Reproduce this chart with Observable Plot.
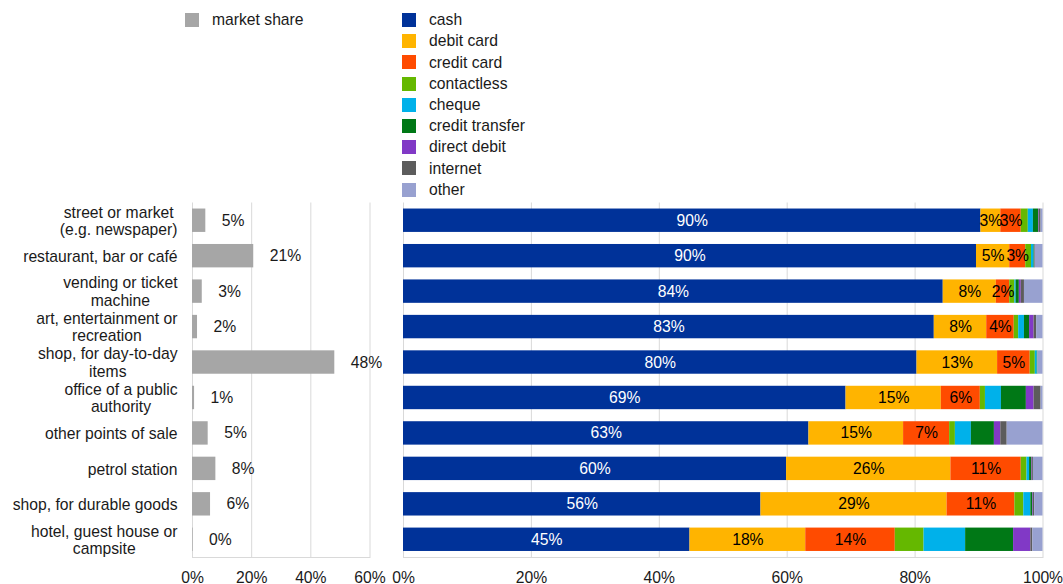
<!DOCTYPE html>
<html>
<head>
<meta charset="utf-8">
<script src="https://cdn.jsdelivr.net/npm/d3@7"></script>
<script src="https://cdn.jsdelivr.net/npm/@observablehq/plot@0.6"></script>
<style>
  body { margin: 0; background: #fff; font-family: "Liberation Sans", Arial, sans-serif; }
  #chart { position: relative; width: 1063px; height: 584px; color: #1a1a1a; }
  .legend { position: absolute; font-size: 15.7px; line-height: 1; }
  .legend .item { display: flex; align-items: center; height: 21.2px; white-space: nowrap; }
  .legend .sw { width: 14px; height: 14px; margin-right: 13px; flex: none; }
  #left, #right { position: absolute; top: 190px; }
  #left { left: 0; }
  #right { left: 386px; }
</style>
</head>
<body>
<div id="chart">
  <div class="legend" id="leg-share" style="left:185px; top:9.5px"></div>
  <div class="legend" id="leg-methods" style="left:402px; top:9.5px"></div>
  <div id="left"></div>
  <div id="right"></div>
</div>
<script>
// Points of sale, top to bottom
const categories = [
  "street or market\n(e.g. newspaper)",
  "restaurant, bar or café",
  "vending or ticket\nmachine",
  "art, entertainment or\nrecreation",
  "shop, for day-to-day\nitems",
  "office of a public\nauthority",
  "other points of sale",
  "petrol station",
  "shop, for durable goods",
  "hotel, guest house or\ncampsite"
];

// Share of all transactions made at each point of sale (%)
const marketShare = [4.5, 20.7, 3.3, 1.7, 48.1, 0.7, 5.3, 7.9, 6.1, 0.2];

// Payment instruments and their colours
const methods = ["cash", "debit card", "credit card", "contactless", "cheque",
                 "credit transfer", "direct debit", "internet", "other"];
const methodColors = ["#003299", "#ffb400", "#ff4b00", "#65b800", "#00b1ea",
                      "#007816", "#8139c6", "#5c5c5c", "#98a1d0"];

// Share of each instrument per point of sale (%), in category order
const cash           = [90.3, 89.6, 84.4, 83.0, 80.3, 69.2, 63.4, 59.9, 55.9, 44.8];
const debitCard      = [ 3.1,  5.2,  8.3,  8.2, 12.6, 14.9, 14.8, 25.7, 29.1, 18.1];
const creditCard     = [ 3.2,  2.5,  2.1,  4.3,  5.1,  6.1,  7.2, 11.0, 10.6, 14.0];
const contactless    = [ 1.1,  0.9,  0.8,  0.7,  0.8,  0.8,  0.9,  0.9,  1.4,  4.5];
const cheque         = [ 0.8,  0.4,  0.2,  0.9,  0.3,  2.5,  2.5,  0.4,  1.1,  6.5];
const creditTransfer = [ 0.8,  0.1,  0.5,  0.8,  0.1,  3.9,  3.6,  0.3,  0.3,  7.5];
const directDebit    = [ 0.1,  0.0,  0.3,  0.7,  0.0,  1.2,  1.0,  0.1,  0.1,  2.7];
const internet       = [ 0.3,  0.1,  0.5,  0.4,  0.0,  1.1,  1.0,  0.2,  0.2,  0.3];
const other          = [ 0.3,  1.2,  2.9,  1.0,  0.8,  0.3,  5.6,  1.5,  1.3,  1.6];

const seriesValues = [cash, debitCard, creditCard, contactless, cheque,
                      creditTransfer, directDebit, internet, other];

const shareData = categories.map((category, i) => ({category, share: marketShare[i]}));
const mixData = categories.flatMap((category, i) =>
  methods.map((method, j) => ({category, method, value: seriesValues[j][i]})));

const FS = 15.7;
const FONT = '"Liberation Sans", Arial, sans-serif';
const pct = v => Math.round(v) + "%";
const gridColor = "#d9d9d9";
const textColor = "#1a1a1a";

// Legends
function legend(el, names, colors) {
  names.forEach((n, i) => {
    const item = document.createElement("div");
    item.className = "item";
    const sw = document.createElement("span");
    sw.className = "sw";
    sw.style.background = colors[i];
    const label = document.createElement("span");
    label.textContent = n;
    item.append(sw, label);
    el.append(item);
  });
}
legend(document.getElementById("leg-share"), ["market share"], ["#a6a6a6"]);
legend(document.getElementById("leg-methods"), methods, methodColors);

// Category labels: multi-line labels are centred on their widest line,
// with the block right-aligned next to the left panel.
const ctx = document.createElement("canvas").getContext("2d");
ctx.font = `${FS}px ${FONT}`;
const labelGap = 15;
const categoryLabels = categories.map(c => {
  const w = d3.max(c.split("\n"), line => ctx.measureText(line).width);
  return Plot.text([c], {
    y: d => d, text: d => d,
    frameAnchor: "left", textAnchor: "middle", dx: -(labelGap + w / 2),
    lineHeight: 1.12, fontSize: FS, fill: textColor
  });
});

const commonY = {domain: categories, paddingInner: 0.34, paddingOuter: 0.17, round: false, axis: null};
const commonStyle = {fontFamily: FONT, fontSize: FS + "px", color: textColor, background: "transparent", overflow: "visible"};

// Left panel: market share of each point of sale
const leftTicks = [0, 20, 40, 60];
const left = Plot.plot({
  width: 386, height: 394,
  marginLeft: 192, marginRight: 16.5, marginTop: 12.5, marginBottom: 27,
  style: commonStyle,
  x: {domain: [0, 60]},
  y: commonY,
  marks: [
    Plot.gridX(leftTicks, {stroke: gridColor, strokeOpacity: 1}),
    Plot.frame({anchor: "bottom", stroke: gridColor}),
    Plot.barX(shareData, {x: "share", y: "category", fill: "#a6a6a6"}),
    Plot.text(shareData, {x: "share", y: "category", text: d => pct(d.share),
      textAnchor: "start", dx: 16, fontSize: FS, fill: textColor}),
    Plot.axisX(leftTicks, {tickSize: 0, tickPadding: 14, tickFormat: d => d + "%",
      label: null, fontSize: FS, fill: textColor}),
    ...categoryLabels
  ]
});
document.getElementById("left").append(left);

// Right panel: payment instrument mix at each point of sale
const rightTicks = [0, 20, 40, 60, 80, 100];
const labelled = new Set(["debit card", "credit card"]);
const right = Plot.plot({
  width: 677, height: 394,
  marginLeft: 17, marginRight: 20.5, marginTop: 12.5, marginBottom: 27,
  style: commonStyle,
  x: {domain: [0, 100]},
  y: commonY,
  color: {domain: methods, range: methodColors},
  marks: [
    Plot.gridX(rightTicks, {stroke: gridColor, strokeOpacity: 1}),
    Plot.frame({anchor: "bottom", stroke: gridColor}),
    Plot.barX(mixData, Plot.stackX({x: "value", y: "category", fill: "method"})),
    Plot.text(mixData, Plot.stackX({x: "value", y: "category",
      text: d => d.method === "cash" ? pct(d.value) : null,
      fill: "white", fontSize: FS})),
    Plot.text(mixData, Plot.stackX({x: "value", y: "category",
      text: d => labelled.has(d.method) && d.value >= 1.5 ? pct(d.value) : null,
      fill: "black", fontSize: FS})),
    Plot.axisX(rightTicks, {tickSize: 0, tickPadding: 14, tickFormat: d => d + "%",
      label: null, fontSize: FS, fill: textColor})
  ]
});
document.getElementById("right").append(right);
</script>
</body>
</html>
